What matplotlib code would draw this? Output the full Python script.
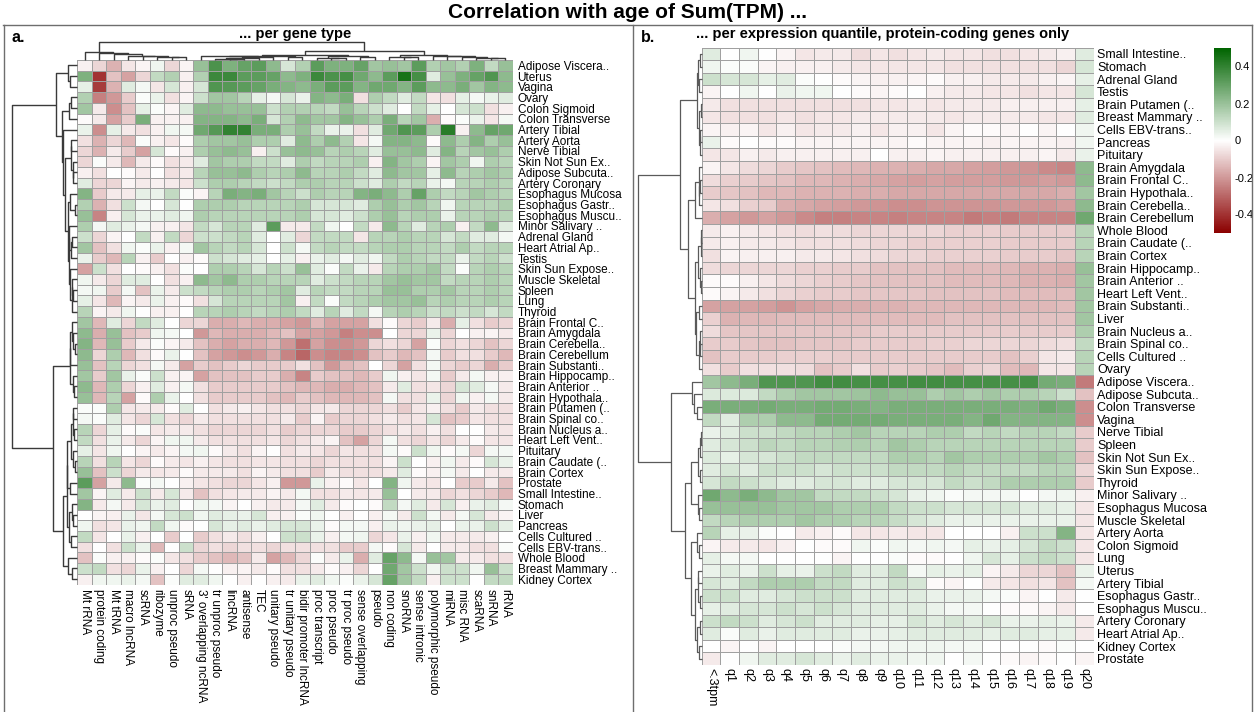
import numpy as np
import matplotlib
matplotlib.use("Agg")
import matplotlib.pyplot as plt
from matplotlib.colors import LinearSegmentedColormap
from matplotlib.lines import Line2D

plt.rcParams['font.family'] = ['Liberation Sans', 'DejaVu Sans']

# ---- panel a: correlation per gene type (values x100) ----
gene_types = ["Mt rRNA", "protein coding", "Mt tRNA", "macro lncRNA", "scRNA", "ribozyme",
              "unproc pseudo", "sRNA", "3' overlapping ncRNA", "tr unproc pseudo", "lincRNA",
              "antisense", "TEC", "unitary pseudo", "tr unitary pseudo", "bidir promoter lncRNA",
              "proc transcript", "proc pseudo", "tr proc pseudo", "sense overlapping", "pseudo",
              "non coding", "snoRNA", "sense intronic", "polymorphic pseudo", "miRNA", "misc RNA",
              "scaRNA", "snRNA", "rRNA"]

tissues_a = ["Adipose Viscera..", "Uterus", "Vagina", "Ovary", "Colon Sigmoid", "Colon Transverse",
             "Artery Tibial", "Artery Aorta", "Nerve Tibial", "Skin Not Sun Ex..", "Adipose Subcuta..",
             "Artery Coronary", "Esophagus Mucosa", "Esophagus Gastr..", "Esophagus Muscu..",
             "Minor Salivary ..", "Adrenal Gland", "Heart Atrial Ap..", "Testis", "Skin Sun Expose..",
             "Muscle Skeletal", "Spleen", "Lung", "Thyroid", "Brain Frontal C..", "Brain Amygdala",
             "Brain Cerebella..", "Brain Cerebellum", "Brain Substanti..", "Brain Hippocamp..",
             "Brain Anterior ..", "Brain Hypothala..", "Brain Putamen (..", "Brain Spinal co..",
             "Brain Nucleus a..", "Heart Left Vent..", "Pituitary", "Brain Caudate (..", "Brain Cortex",
             "Prostate", "Small Intestine..", "Stomach", "Liver", "Pancreas", "Cells Cultured ..",
             "Cells EBV-trans..", "Whole Blood", "Breast Mammary ..", "Kidney Cortex"]

corr_a = [
    [-3, -8, -15, -5, -2, 3, -8, -2, 20, 35, 25, 30, 32, 22, 8, 15, 32, 25, 25, 30, 18, 20, 18, 32, 15, 18, 15, 25, 12, 20],
    [25, -40, -12, -18, -8, 12, 15, -3, 15, 38, 38, 32, 32, 30, 22, 25, 38, 35, 36, 28, 22, 32, 45, 36, 6, 20, 25, 30, 34, 22],
    [5, -38, -15, 6, 2, -5, 8, -3, 8, 34, 33, 32, 30, 26, 24, 22, 26, 32, 32, 24, 28, 28, 24, 32, 22, 22, 26, 18, 24, 22],
    [15, -25, -20, -10, 1, 4, -6, -2, 10, 18, 18, 14, 5, 2, 8, 4, 24, 22, 26, -6, 16, 12, 6, 12, -5, -6, 5, 2, 4, 6],
    [18, -4, -22, -12, 5, 1, -2, 6, 22, 22, 20, 20, 20, 10, 15, 15, 14, 12, 20, 14, 10, 6, 0, 12, 5, 0, 8, 10, -6, -3],
    [-1, -4, -18, -10, 26, -3, -3, -3, 24, 24, 24, 22, 26, 8, 15, 22, 18, 18, 24, 20, 16, 26, 14, 18, -16, -1, 1, 4, -5, 2],
    [4, -22, 5, -4, -6, -3, 3, 2, 28, 33, 40, 40, 26, 26, 16, 20, 12, 4, 4, -6, 6, 28, 34, 32, 16, 42, -3, 22, 30, 28],
    [-6, -15, -8, -14, 1, -3, -5, -1, 16, 18, 18, 20, 16, 16, 6, 22, 16, 22, 15, -5, 2, 24, 24, 22, -1, 22, 16, 24, 16, 20],
    [-8, -15, -4, -10, -18, 8, -1, -3, 16, 20, 22, 20, -3, 10, 20, 22, 20, 14, 16, 14, 6, 20, 20, 22, 6, 24, 14, 18, 20, 16],
    [-8, 1, -4, -14, -4, -1, -6, -4, 6, 18, 16, 16, 12, 12, 6, 16, 12, 14, 14, 16, -3, 24, 18, 16, -2, 18, 16, 3, 16, 14],
    [-3, -6, 0, -1, -4, 0, -6, -4, 14, 20, 20, 22, 16, 14, 16, 22, 14, 14, 16, 12, 6, 22, 18, 18, 5, 22, 14, 16, 18, 16],
    [6, -8, -8, -2, -4, -3, -4, -5, 10, 16, 16, 14, 12, 10, 12, 16, 16, 14, 14, 10, 6, 16, 12, 14, 4, 2, 14, 14, 16, 14],
    [24, -10, -4, -4, 5, 4, 12, 1, -2, 14, 26, 24, 26, 18, 14, 10, 16, 14, 14, 24, 26, 22, 16, 30, 16, 12, 14, 18, 16, 14],
    [15, -15, -6, 10, 2, 0, 8, 0, 16, 16, 16, 14, 14, 14, 14, 16, 8, 8, 8, 6, 16, 20, 16, 18, 14, 3, 14, 14, 14, 16],
    [20, -24, -3, 8, 4, 4, 6, 3, 16, 14, 14, 14, 14, 14, 14, 16, 8, 8, 6, 10, 16, 20, 14, 16, 16, 4, 14, 14, 16, 14],
    [16, 2, 6, 4, 2, -3, -3, -5, 12, 8, 14, 14, 6, 32, -4, -4, 12, 3, 0, 12, -4, 22, 14, 6, 14, 16, -3, 12, 22, 6],
    [10, -8, -2, 0, 12, -3, 12, -8, 10, 10, 12, 14, 6, 0, 6, -8, 12, 12, 12, -5, 14, 14, 16, 14, 14, 8, 12, 6, 6, 2],
    [18, -12, -6, 3, 1, 4, -3, 2, 18, 14, 12, 14, 8, 0, 10, 2, 12, 14, 12, 12, 14, 16, 16, 14, 14, 12, 16, 12, 14, 14],
    [4, -10, -14, 14, -3, -10, 0, -3, -1, 10, 8, 6, 5, 0, 5, -3, 4, 6, 2, 6, 3, 12, 16, 14, 12, 12, 4, 12, 14, 10],
    [-18, 10, -6, 0, -1, -3, -6, 1, 0, 16, 16, 14, 8, 14, 10, 20, 6, 1, 12, 4, -4, 14, 16, 16, 18, 12, 1, 14, 16, 14],
    [3, -4, -8, 6, 6, 0, -6, -3, 22, 18, 22, 16, 16, 14, 14, 14, 6, 10, 12, 14, 14, 18, 20, 18, 18, 12, 14, 14, 16, 14],
    [2, 3, -10, 2, -12, 4, -4, 10, 12, 14, 16, 16, 14, 16, 18, 6, 14, 12, 12, 14, 14, 20, 20, 16, 16, 18, 14, 14, 16, 14],
    [5, -5, -14, -2, -4, 4, -3, -1, -6, 8, 14, 14, 14, 14, 18, -3, 12, 1, 12, 14, 16, 18, 18, 20, 14, 16, 14, 14, 16, 14],
    [14, -2, -4, 3, 0, -3, -3, 0, 14, 14, 16, 14, 12, 14, 16, 12, 6, 14, 6, 12, 2, 14, 16, 14, 10, 12, 10, 12, 8, 12],
    [18, -14, 6, -8, 12, 6, 0, -8, -8, -16, -16, -14, -16, -16, -18, -20, -14, -18, -18, -18, -6, -1, -8, -10, -4, -16, 5, -6, -10, -8],
    [22, -16, 20, -12, -10, 3, 2, 0, -20, -14, -16, -16, -16, -14, -12, -18, -18, -20, -25, -22, -22, 0, -8, -8, 4, -8, 0, -3, -2, -4],
    [24, -14, 20, -10, -4, 1, -2, -4, -12, -16, -18, -16, -16, -14, -20, -28, -18, -22, -22, -20, -8, -6, -8, -18, 1, -8, -6, -8, -12, -8],
    [22, -8, 16, -14, -6, -1, 4, 0, -12, -18, -20, -22, -20, -16, -24, -30, -22, -24, -24, -22, -12, -10, -14, -12, 2, -10, -6, -6, -10, -14],
    [20, -12, 14, -8, -6, 2, -4, -18, -10, -12, -10, -8, -10, -10, -10, -6, -12, -20, -14, -12, 0, -8, -18, -6, 2, -8, -10, -8, -16, -10],
    [18, -10, 18, 4, 1, 10, -3, -2, -18, -12, -12, -12, -10, -10, -16, -24, -10, -12, -12, -14, -10, 3, -3, -5, 2, -10, -4, 2, -3, -3],
    [22, -14, 16, -8, -3, 6, -3, 2, -6, -10, -10, -10, -10, -10, -12, -14, -14, -16, -16, -14, -12, -4, 6, -6, -5, -8, 8, 6, 2, -4],
    [20, -14, 14, -18, -1, 16, 4, 0, -6, -10, -10, -10, -10, -12, -14, -10, -12, -14, -14, -14, -12, 2, -6, -6, 4, -8, 3, -3, 2, -4],
    [1, 1, 16, -5, -4, -4, -1, 6, 0, -6, -4, -3, -5, -6, -6, -8, -5, -4, -8, -8, -8, -6, -10, -5, -3, -6, -10, -4, -6, -6],
    [2, 1, 6, -5, -8, 8, -6, -8, -4, -6, -6, -6, -6, -6, -4, -10, -2, -10, -8, -8, -6, -4, -6, -5, 8, -12, -10, -5, -6, -6],
    [14, -8, 5, -1, 1, -5, -4, -4, -6, -8, -8, -8, -8, -6, -10, -8, -8, -8, -10, -10, -8, -6, -4, -6, -3, -6, 0, 0, -4, -5],
    [12, -6, 4, -4, -8, -2, 3, 3, -4, -6, -6, -6, -6, -5, -8, -6, -4, -2, -12, -18, -8, 2, -6, -8, -5, -8, -4, -1, -5, -5],
    [5, -5, 3, 0, -2, -4, -2, 2, 3, -1, -4, -6, -2, 0, -6, -4, -5, -8, -5, -6, -6, 2, -1, 10, 3, -1, 2, -8, 2, 2],
    [14, -6, 14, -5, -8, -1, -4, -5, -3, -5, -6, -6, -5, -5, -6, -6, -8, -6, -6, -6, -6, -2, 10, 0, -3, 3, -4, -1, 8, 4],
    [20, -12, 10, -8, -4, -5, -4, -1, -4, -4, -4, -6, -2, -4, -6, -6, -10, -4, -6, -6, -6, -4, 6, -1, -3, 2, -4, 0, -4, -4],
    [32, -18, -4, 22, 1, 2, 0, -3, -5, -6, -8, -8, -5, -3, -20, -20, 4, -3, -1, -5, 0, 24, 3, -4, -5, 0, -10, -10, -4, -12],
    [18, -2, 6, -4, 10, -4, 8, -4, -12, -6, -5, -4, -4, -2, -4, 2, -6, -6, -4, -5, -4, 20, 0, -4, -4, -8, -6, -8, -10, -14],
    [24, -4, 2, -4, 8, 4, 6, 0, 3, 2, -2, 0, -3, -4, -4, 2, 6, -4, -1, 0, -1, 12, 2, 6, -4, 8, -3, 4, 6, 2],
    [0, -2, -3, 4, -5, 2, 8, 10, 3, 6, 5, 4, 8, -3, -3, 1, 3, 0, -3, 0, -3, 2, -4, 10, 2, -4, 2, 8, -4, -2],
    [3, -6, -5, 4, 3, 12, 3, -1, 0, 8, 5, 6, 4, 6, 8, 8, 4, -1, 2, 2, -3, 4, 3, 4, 5, 0, 4, 4, 10, 5],
    [12, -5, 0, 4, -3, 0, -10, 0, -10, -6, -4, -6, -3, 0, 10, 10, 4, -3, 2, 3, -8, -5, 4, -3, 3, -4, -4, -4, -3, 0],
    [-6, 0, -6, 10, 4, -14, 0, 10, -8, -6, -8, -6, -6, -8, -6, -6, -6, -6, -10, -10, 2, -1, 8, -4, 0, -4, -4, -6, -6, 1],
    [-12, 1, -3, -3, -1, 1, -5, -6, -10, -12, -14, -12, -4, -18, -14, -8, 1, -4, 4, -16, 6, 30, 22, 2, 20, 18, -4, -4, -6, -6],
    [10, 12, -6, -8, 4, -3, 0, -8, 2, 0, -3, -2, -4, -1, -6, -6, -4, -1, -3, -8, 0, 28, 18, 10, 3, 10, 10, 3, 20, 10],
    [-3, 3, 3, 4, 2, -12, 1, 6, 6, 3, 0, -3, 0, -3, -4, 4, 6, 3, 1, 4, 8, 30, 18, 12, -3, 10, 10, 0, 12, 12],
]

# ---- panel b: correlation per expression quantile (values x100) ----
quantiles = ["<.3tpm", "q1", "q2", "q3", "q4", "q5", "q6", "q7", "q8", "q9", "q10",
             "q11", "q12", "q13", "q14", "q15", "q16", "q17", "q18", "q19", "q20"]

tissues_b = ["Small Intestine..", "Stomach", "Adrenal Gland", "Testis", "Brain Putamen (..",
             "Breast Mammary ..", "Cells EBV-trans..", "Pancreas", "Pituitary", "Brain Amygdala",
             "Brain Frontal C..", "Brain Hypothala..", "Brain Cerebella..", "Brain Cerebellum",
             "Whole Blood", "Brain Caudate (..", "Brain Cortex", "Brain Hippocamp..", "Brain Anterior ..",
             "Heart Left Vent..", "Brain Substanti..", "Liver", "Brain Nucleus a..", "Brain Spinal co..",
             "Cells Cultured ..", "Ovary", "Adipose Viscera..", "Adipose Subcuta..", "Colon Transverse",
             "Vagina", "Nerve Tibial", "Spleen", "Skin Not Sun Ex..", "Skin Sun Expose..", "Thyroid",
             "Minor Salivary ..", "Esophagus Mucosa", "Muscle Skeletal", "Artery Aorta", "Colon Sigmoid",
             "Lung", "Uterus", "Artery Tibial", "Esophagus Gastr..", "Esophagus Muscu..",
             "Artery Coronary", "Heart Atrial Ap..", "Kidney Cortex", "Prostate"]

corr_b = [
    [6, 0, 3, 0, -2, -5, -4, -4, -7, -5, -6, -5, -4, -5, -5, -6, -6, -5, -4, -3, 6],
    [3, 1, 1, -2, -3, -3, -3, -4, -5, -5, -5, -5, -5, -6, -6, -6, -6, -6, -6, -8, 8],
    [10, 8, 8, 5, 6, 1, 0, -1, -2, -3, -3, -2, -1, -3, -3, -4, -4, -4, -3, -2, 5],
    [-2, 0, 3, 0, 4, 3, 3, 0, -1, -2, -1, 0, -3, -4, -4, -5, -5, -6, -5, -5, 8],
    [-4, -6, -6, -6, -6, -6, -6, -6, -6, -5, -5, -4, -5, -4, -4, -4, -3, -3, -3, -3, 5],
    [-5, -6, -6, -6, -5, -6, -5, -5, -4, -4, -4, -4, -4, -5, -4, -4, -4, -4, -5, -5, 6],
    [-2, -3, -2, -5, -3, -5, -4, -4, -3, -5, -3, -3, -5, -2, -1, -1, -2, 0, -2, 0, 3],
    [4, -1, 0, -1, -1, -2, -2, -2, -2, -2, -2, -1, -2, -2, -2, -3, -2, -2, -2, -3, 3],
    [-5, -5, -3, -4, -3, -3, -3, -3, -3, 0, -3, -3, -2, -3, -3, -3, -3, -3, -2, -4, 4],
    [-2, -5, -7, -8, -10, -11, -12, -13, -14, -15, -15, -16, -17, -17, -18, -19, -20, -21, -23, -24, 22],
    [-7, -9, -10, -11, -12, -14, -14, -15, -16, -17, -18, -19, -18, -19, -19, -19, -20, -20, -19, -20, 22],
    [-10, -11, -12, -14, -14, -15, -15, -15, -16, -16, -17, -17, -17, -17, -17, -17, -17, -17, -17, -16, 18],
    [-5, -6, -9, -10, -16, -17, -18, -19, -20, -21, -22, -22, -21, -21, -21, -21, -20, -20, -20, -19, 22],
    [-16, -18, -20, -18, -20, -23, -25, -25, -24, -24, -25, -24, -24, -24, -26, -25, -26, -24, -24, -24, 28],
    [-4, -3, -4, -5, -6, -7, -6, -7, -8, -8, -8, -8, -8, -9, -9, -9, -10, -10, -10, -10, 14],
    [-4, -3, -4, -4, -5, -6, -6, -6, -7, -8, -8, -9, -9, -9, -9, -9, -10, -10, -10, -10, 14],
    [-6, -2, -3, -3, -3, -4, -4, -5, -6, -7, -8, -8, -9, -9, -9, -9, -10, -10, -10, -11, 14],
    [-7, -8, -8, -8, -8, -9, -9, -10, -10, -12, -12, -12, -12, -13, -13, -13, -14, -15, -15, -16, 20],
    [-1, -1, -3, -5, -7, -8, -9, -10, -11, -12, -12, -12, -12, -13, -13, -13, -14, -15, -15, -16, 18],
    [-1, -2, -4, -6, -8, -9, -10, -10, -11, -11, -11, -11, -12, -12, -12, -12, -13, -13, -13, -13, 18],
    [-18, -18, -18, -19, -21, -18, -17, -16, -16, -15, -15, -14, -14, -14, -14, -14, -14, -14, -14, -13, 18],
    [-9, -15, -14, -14, -13, -13, -13, -13, -13, -13, -13, -13, -13, -12, -12, -12, -12, -12, -12, -12, 18],
    [-7, -11, -11, -11, -11, -11, -11, -11, -11, -10, -10, -10, -10, -10, -10, -10, -10, -10, -10, -10, 16],
    [-10, -10, -11, -12, -12, -11, -11, -11, -10, -10, -10, -10, -9, -9, -8, -8, -8, -8, -7, -6, 12],
    [-12, -10, -10, -10, -9, -9, -9, -10, -10, -10, -10, -10, -10, -10, -10, -10, -12, -9, -5, -4, 14],
    [-6, -10, -6, -6, -6, -7, -12, -10, -6, -10, -9, -10, -11, -13, -9, -8, -13, -14, -5, -5, 14],
    [18, 22, 26, 34, 34, 34, 37, 37, 36, 36, 36, 37, 37, 36, 36, 36, 36, 36, 27, 26, -26],
    [7, 7, 7, 12, 16, 18, 18, 18, 19, 22, 20, 20, 16, 18, 16, 18, 16, 16, 14, 10, -12],
    [26, 26, 26, 27, 26, 26, 27, 27, 26, 24, 26, 26, 26, 26, 26, 26, 26, 25, 28, 26, -22],
    [12, 6, 16, 16, 22, 22, 27, 27, 27, 27, 26, 26, 26, 26, 24, 28, 24, 24, 24, 24, -22],
    [4, 6, 10, 10, 12, 14, 14, 16, 18, 14, 14, 14, 16, 16, 12, 14, 12, 14, 14, 12, -10],
    [6, 8, 10, 13, 12, 14, 14, 15, 16, 14, 18, 16, 14, 14, 14, 14, 14, 14, 14, 14, -10],
    [7, 5, 8, 8, 10, 12, 12, 12, 12, 12, 16, 16, 14, 18, 16, 16, 16, 16, 18, 16, -12],
    [6, 8, 6, 10, 10, 10, 8, 10, 10, 10, 12, 12, 12, 14, 12, 12, 12, 12, 14, 14, -8],
    [8, 12, 10, 8, 6, 6, 8, 8, 6, 6, 8, 8, 8, 12, 10, 12, 16, 16, 16, 16, -10],
    [28, 22, 26, 22, 18, 18, 12, 12, 12, 10, 8, 4, 3, 1, 2, 2, 2, 0, 2, 3, -3],
    [20, 20, 20, 20, 18, 18, 18, 16, 16, 16, 12, 10, 10, 8, 8, 8, 8, 6, 6, 5, -5],
    [12, 14, 16, 16, 16, 18, 16, 16, 14, 14, 11, 8, 6, 4, 4, 4, 4, 4, 4, 4, -5],
    [14, 5, 4, 1, 0, -4, -3, -1, -5, -5, -4, -5, -5, 0, 0, 0, -3, 10, 10, 24, -5],
    [-2, -4, -4, -5, -3, 0, -1, -1, 3, 1, 3, 2, 3, 2, 5, 4, 5, 8, 12, 10, -5],
    [5, 2, 2, 0, 0, 0, 0, -2, 0, 0, 1, -1, -1, 0, 3, 8, 5, 10, 12, 10, -5],
    [4, 6, 4, 10, 5, 4, 10, 12, 6, 6, 12, 2, 5, 4, 5, -2, -4, -8, -8, -12, 4],
    [8, 6, 12, 16, 16, 16, 12, 12, 6, 6, 10, 8, -1, -2, 0, -4, -5, -6, -5, -12, 2],
    [10, 10, 6, 6, 8, 10, 10, 10, 6, 6, 6, 6, 4, 4, 4, 2, 1, -2, 0, -4, 0],
    [5, 6, 8, 8, 10, 8, 10, 8, 6, 6, 6, 6, 4, 2, 2, 0, -1, -1, -2, -4, 0],
    [10, 12, 10, 6, 8, 10, 6, 6, 6, 5, 5, 8, 6, 8, 6, 8, 4, 4, 5, 4, -4],
    [6, 1, 6, 4, 6, 6, 6, 6, 4, 4, 5, 6, 6, 6, 6, 5, 6, 6, 5, 5, -4],
    [0, -2, 0, -2, 0, 0, 0, 1, 2, 2, 3, 3, 3, 2, 2, 0, 0, 0, -1, 1, 0],
    [-4, 0, 3, 6, 6, 8, 6, 4, 6, 4, 4, 3, 3, 0, 2, 0, -1, -2, -1, 0, -2],
]

W, H = 1255, 712
fig = plt.figure(figsize=(W / 100, H / 100), dpi=100)
cmap = LinearSegmentedColormap.from_list("rwg", ["#8B0000", "#FFFFFF", "#006400"])


def px_axes(x0, y0, x1, y1):
    # axes placed by pixel box, measured from the top-left corner
    return fig.add_axes([x0 / W, 1 - y1 / H, (x1 - x0) / W, (y1 - y0) / H])


def fig_line(x0, y0, x1, y1, **kw):
    fig.add_artist(Line2D([x0 / W, x1 / W], [1 - y0 / H, 1 - y1 / H],
                          transform=fig.transFigure, **kw))


def heatmap(ax, data, rows, cols, fs, pad):
    mesh = ax.pcolormesh(data, cmap=cmap, vmin=-0.5, vmax=0.5,
                         edgecolors="#a0a0a0", linewidth=0.7)
    ax.set_xlim(0, data.shape[1])
    ax.set_ylim(data.shape[0], 0)
    ax.yaxis.tick_right()
    ax.set_yticks(np.arange(len(rows)) + 0.5)
    ax.set_yticklabels(rows, fontsize=fs)
    ax.set_xticks(np.arange(len(cols)) + 0.5)
    ax.set_xticklabels(cols, fontsize=fs, rotation=270)
    ax.tick_params(length=0, pad=pad)
    for s in ax.spines.values():
        s.set_visible(False)
    return mesh


def ordered_tree(M):
    # Ward-type merging of neighbouring clusters only, so the leaf order is kept
    cent = [row.copy() for row in M]
    size = [1] * len(M)
    pos = [float(i) for i in range(len(M))]
    hts = [0.0] * len(M)
    segs = []
    while len(cent) > 1:
        d = [np.sqrt(2 * size[k] * size[k + 1] / (size[k] + size[k + 1])
                     * ((cent[k] - cent[k + 1]) ** 2).sum())
             for k in range(len(cent) - 1)]
        k = int(np.argmin(d))
        h = max(d[k], hts[k], hts[k + 1])
        segs.append((pos[k], hts[k], pos[k + 1], hts[k + 1], h))
        n = size[k] + size[k + 1]
        cent[k] = (cent[k] * size[k] + cent.pop(k + 1) * size[k + 1]) / n
        size[k] = n
        size.pop(k + 1)
        pos[k] = (pos[k] + pos.pop(k + 1)) / 2
        hts[k] = h
        hts.pop(k + 1)
    return segs, hts[0]


def dendrogram(ax, M, side, color, lw):
    segs, top = ordered_tree(M)
    for p1, h1, p2, h2, h in segs:
        hs = [h1, h, h, h2]
        ps = [p1 + 0.5, p1 + 0.5, p2 + 0.5, p2 + 0.5]
        if side == "left":
            ax.plot(hs, ps, color=color, lw=lw, clip_on=False, solid_capstyle="butt")
        else:
            ax.plot(ps, hs, color=color, lw=lw, clip_on=False, solid_capstyle="butt")
    if side == "left":
        ax.set_xlim(top, 0)
        ax.set_ylim(len(M), 0)
    else:
        ax.set_ylim(0, top)
        ax.set_xlim(0, len(M))
    ax.axis("off")


A = np.array(corr_a, dtype=float) / 100
B = np.array(corr_b, dtype=float) / 100

# panel a
ax_a = px_axes(77.3, 60, 512.7, 584.5)
heatmap(ax_a, A, tissues_a, gene_types, 8.5, 3.5)
dendrogram(px_axes(12, 60, 77.3, 584.5), A, "left", "#3a3a3a", 1.0)
dendrogram(px_axes(77.3, 41.5, 512.7, 60), A.T, "top", "#3a3a3a", 1.0)

# panel b
ax_b = px_axes(701.7, 47.7, 1093.7, 665)
mesh = heatmap(ax_b, B, tissues_b, quantiles, 9, 2.5)
dendrogram(px_axes(638, 47.7, 701.7, 665), B, "left", "#5a5a5a", 0.9)

cax = px_axes(1214, 48, 1231, 233)
cb = fig.colorbar(mesh, cax=cax)
cb.set_ticks([0.4, 0.2, 0, -0.2, -0.4])
cb.set_ticklabels(["0.4", "0.2", "0", "-0.2", "-0.4"])
cb.outline.set_visible(False)
cax.tick_params(length=0, labelsize=8, pad=2.5)

# frames and titles
frame = dict(color="#6e6e6e", lw=1.0)
fig_line(3, 24.5, 1252, 24.5, **frame)
fig_line(3.5, 24.5, 3.5, 712, **frame)
fig_line(632.5, 24.5, 632.5, 712, **frame)
fig_line(1251.5, 24.5, 1251.5, 712, **frame)

fig.text(628 / W, 1 - 13 / H, "Correlation with age of Sum(TPM) ...", ha="center", va="center",
         fontsize=15, weight="bold")
fig.text(11 / W, 1 - 38 / H, "a.", ha="left", va="center", fontsize=11.5, weight="bold")
fig.text(641 / W, 1 - 38 / H, "b.", ha="left", va="center", fontsize=11.5, weight="bold")
fig.text(295 / W, 1 - 34 / H, "... per gene type", ha="center", va="center",
         fontsize=10.5, weight="bold")
fig.text(883 / W, 1 - 34 / H, "... per expression quantile, protein-coding genes only",
         ha="center", va="center", fontsize=10.5, weight="bold")

fig.savefig("out.png", dpi=100)
